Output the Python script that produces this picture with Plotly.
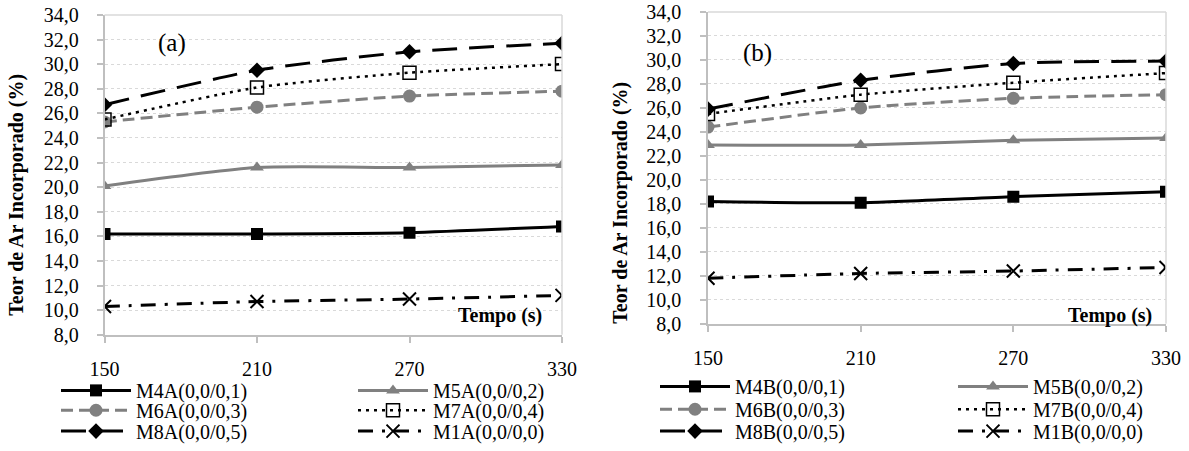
import plotly.graph_objects as go

# ---------------- data ----------------
tempo = [150, 210, 270, 330]
y_tick_vals = [8, 10, 12, 14, 16, 18, 20, 22, 24, 26, 28, 30, 32, 34]

names_a = ["M4A(0,0/0,1)", "M5A(0,0/0,2)", "M6A(0,0/0,3)", "M7A(0,0/0,4)", "M8A(0,0/0,5)", "M1A(0,0/0,0)"]
names_b = ["M4B(0,0/0,1)", "M5B(0,0/0,2)", "M6B(0,0/0,3)", "M7B(0,0/0,4)", "M8B(0,0/0,5)", "M1B(0,0/0,0)"]

m4a = [16.2, 16.2, 16.3, 16.8]
m5a = [20.1, 21.6, 21.6, 21.8]
m6a = [25.3, 26.5, 27.4, 27.8]
m7a = [25.5, 28.1, 29.3, 30.0]
m8a = [26.7, 29.5, 31.0, 31.7]
m1a = [10.3, 10.7, 10.9, 11.2]

m4b = [18.2, 18.1, 18.6, 19.0]
m5b = [22.9, 22.9, 23.3, 23.5]
m6b = [24.4, 26.0, 26.8, 27.1]
m7b = [25.5, 27.1, 28.1, 28.9]
m8b = [25.9, 28.3, 29.7, 29.9]
m1b = [11.8, 12.2, 12.4, 12.7]

series_a = [m4a, m5a, m6a, m7a, m8a, m1a]
series_b = [m4b, m5b, m6b, m7b, m8b, m1b]

# ---------------- styles ----------------
FONT = "Times New Roman"
BLACK = "#000000"
GRAY = "#808080"
styles = [
    dict(color=BLACK, dash="solid", width=3, symbol="square", msize=12, mline=0, mcolor=BLACK),
    dict(color=GRAY, dash="solid", width=3, symbol="triangle-up", msize=12, mline=0, mcolor=GRAY),
    dict(color=GRAY, dash="12px,6px", width=3, symbol="circle", msize=13, mline=0, mcolor=GRAY),
    dict(color=BLACK, dash="3px,5px", width=2.5, symbol="square-open", msize=13, mline=1.5, mcolor=BLACK),
    dict(color=BLACK, dash="25px,12px", width=3, symbol="diamond", msize=12, mline=0, mcolor=BLACK),
    dict(color=BLACK, dash="15px,9px,3px,9px", width=3, symbol="x-thin", msize=13, mline=2, mcolor=BLACK),
]

W, H = 1189, 451

def px_x(v):
    return v / W

def px_y(v):
    return 1 - v / H

# legend slots: (x px, y px) per series index
leg_a = {0: (56, 393), 2: (56, 413), 4: (56, 434), 1: (353, 393), 3: (353, 413), 5: (353, 434)}
leg_b = {0: (655, 389), 2: (655, 412), 4: (655, 434), 1: (953, 389), 3: (953, 412), 5: (953, 434)}

fig = go.Figure()
layout_legends = {}
k = 0
for names, series, legpos, xa, ya in [
        (names_a, series_a, leg_a, "x", "y"),
        (names_b, series_b, leg_b, "x2", "y2")]:
    for i, (nm, vals) in enumerate(zip(names, series)):
        s = styles[i]
        k += 1
        lname = "legend" if k == 1 else f"legend{k}"
        fig.add_trace(go.Scatter(
            x=tempo, y=vals, name=nm, mode="lines+markers",
            xaxis=xa, yaxis=ya,
            line=dict(color=s["color"], dash=s["dash"], width=s["width"], shape="spline", smoothing=0.6),
            marker=dict(symbol=s["symbol"], size=s["msize"], color=s["mcolor"],
                        line=dict(width=s["mline"], color=s["mcolor"])),
            legend=lname, showlegend=True,
        ))
        lx, ly = legpos[i]
        layout_legends[lname] = dict(
            x=px_x(lx), y=px_y(ly), xanchor="left", yanchor="middle",
            orientation="v", itemwidth=70, bgcolor="rgba(0,0,0,0)", borderwidth=0,
            font=dict(family=FONT, size=20, color=BLACK), tracegroupgap=0,
        )

xdom_a = [px_x(104.5), px_x(562)]
ydom_a = [px_y(337), px_y(15)]
xdom_b = [px_x(708), px_x(1166)]
ydom_b = [px_y(326), px_y(12)]

axes = {}
for sfx, xdom, ydom, ystand in [("", xdom_a, ydom_a, 14), ("2", xdom_b, ydom_b, 15)]:
    common = dict(showline=True, linecolor="#bfbfbf", linewidth=1.5, automargin=False,
                  ticks="outside", ticklen=6, tickcolor="#bfbfbf", tickwidth=1.5,
                  tickfont=dict(family=FONT, size=20, color=BLACK), zeroline=False)
    axes["xaxis" + sfx] = dict(common, domain=xdom, anchor="y" + sfx, range=[150, 330],
                               tickvals=tempo, ticktext=[str(t) for t in tempo],
                               showgrid=False, ticklabelstandoff=9)
    axes["yaxis" + sfx] = dict(common, domain=ydom, anchor="x" + sfx, range=[8, 34],
                               tickvals=y_tick_vals, tickformat=".1f",
                               showgrid=True, gridcolor="#d9d9d9", griddash="dot", gridwidth=1,
                               ticklabelstandoff=ystand)

shapes = []
for xr, yr in [("x domain", "y domain"), ("x2 domain", "y2 domain")]:
    shapes.append(dict(type="line", xref=xr, yref=yr, x0=0, x1=1, y0=1, y1=1,
                       line=dict(color="#d9d9d9", width=1.5)))
    shapes.append(dict(type="line", xref=xr, yref=yr, x0=1, x1=1, y0=0, y1=1,
                       line=dict(color="#d9d9d9", width=1.5)))

annotations = [
    dict(text="(a)", x=px_x(172), y=px_y(43), xref="paper", yref="paper", showarrow=False,
         font=dict(family=FONT, size=25, color=BLACK), xanchor="center", yanchor="middle"),
    dict(text="(b)", x=px_x(758), y=px_y(53), xref="paper", yref="paper", showarrow=False,
         font=dict(family=FONT, size=25, color=BLACK), xanchor="center", yanchor="middle"),
    dict(text="<b>Tempo (s)</b>", x=px_x(544), y=px_y(318), xref="paper", yref="paper", showarrow=False,
         font=dict(family=FONT, size=20, color=BLACK), xanchor="right", yanchor="middle"),
    dict(text="<b>Tempo (s)</b>", x=px_x(1154), y=px_y(318), xref="paper", yref="paper", showarrow=False,
         font=dict(family=FONT, size=20, color=BLACK), xanchor="right", yanchor="middle"),
    dict(text="<b>Teor de Ar Incorporado (%)</b>", x=px_x(17), y=px_y(196), xref="paper", yref="paper",
         showarrow=False, textangle=-90, font=dict(family=FONT, size=20, color=BLACK),
         xanchor="center", yanchor="middle"),
    dict(text="<b>Teor de Ar Incorporado (%)</b>", x=px_x(621), y=px_y(204), xref="paper", yref="paper",
         showarrow=False, textangle=-90, font=dict(family=FONT, size=20, color=BLACK),
         xanchor="center", yanchor="middle"),
]

fig.update_layout(
    template="none",
    width=W, height=H, autosize=False,
    margin=dict(l=0, r=0, t=0, b=0, pad=0),
    paper_bgcolor="white", plot_bgcolor="white",
    font=dict(family=FONT, size=20, color=BLACK),
    separators=",.",
    shapes=shapes, annotations=annotations,
    **axes,
    **layout_legends,
)

fig.write_html("out.html")
